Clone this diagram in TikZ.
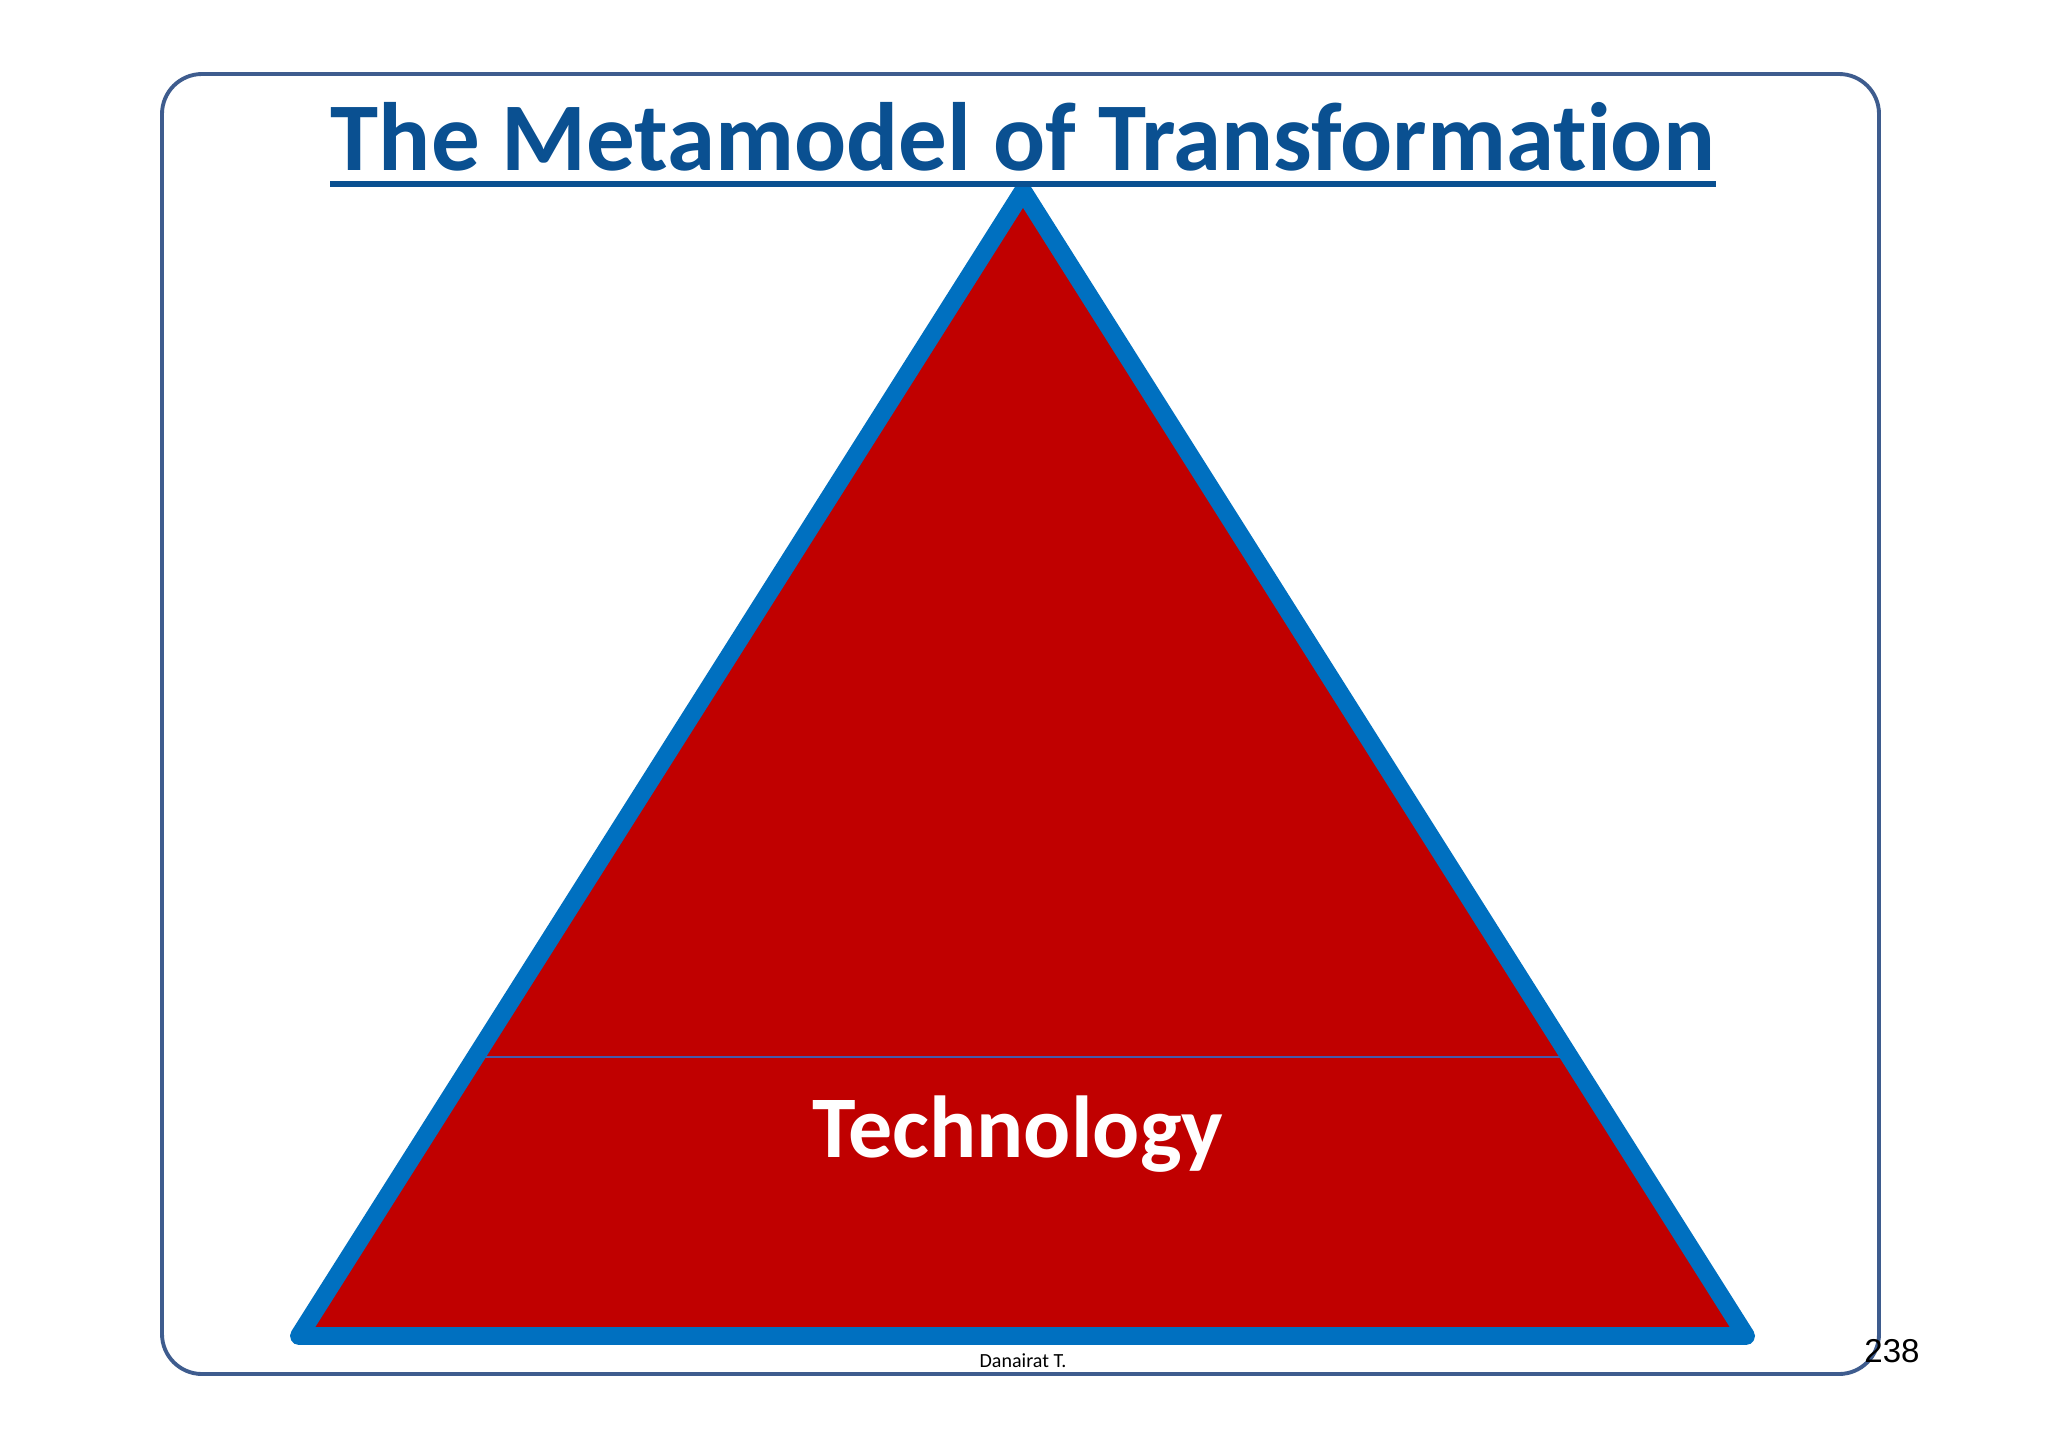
\documentclass[tikz,border=0pt]{standalone}
\usepackage{fontspec}
\setmainfont{Carlito}[Ligatures=NoCommon]
\newfontfamily\arialf{Liberation Sans}
\definecolor{titleblue}{RGB}{10,80,145}
\definecolor{framecol}{RGB}{62,92,142}
\definecolor{triblue}{RGB}{0,112,192}
\definecolor{trired}{RGB}{192,0,0}
\definecolor{divcol}{RGB}{70,90,170}
\tikzset{
  framebox/.style={draw=framecol,line width=1.1pt,rounded corners=0.4cm},
  tristroke/.style={draw=triblue,line width=5.1pt,line join=round},
  trifill/.style={fill=trired},
  titletext/.style={font=\bfseries\fontsize{27.6}{30}\selectfont,text=titleblue,inner sep=0pt,anchor=base},
  techtext/.style={font=\bfseries\fontsize{25}{27}\selectfont,text=white,inner sep=0pt},
  foottext/.style={font=\fontsize{5.7}{6}\selectfont,text=black,inner sep=0pt,anchor=base},
  pagetext/.style={font=\arialf\fontsize{9.4}{10}\selectfont,text=black,inner sep=0pt,anchor=base}
}
\begin{document}
\begin{tikzpicture}[x=0.01cm,y=-0.01cm]
\useasboundingbox[fill=white] (0,0) rectangle (2048,1448);
\draw[framebox] (162,74) rectangle (1879,1374);
\coordinate (apex) at (1023,191);
\coordinate (bl) at (299,1336);
\coordinate (br) at (1746,1336);
\coordinate (dl) at (475,1057);
\coordinate (dr) at (1571,1057);
\fill[trifill] (apex) -- (bl) -- (br) -- cycle;
\draw[divcol,line width=0.5pt] (dl) -- (dr);
\draw[tristroke] (apex) -- (bl) -- (br) -- cycle;
\node[titletext] (title) at (1023,170) {The Metamodel of Transformation};
\draw[titleblue,line width=1.5pt] ([yshift=-0.14cm]title.base west) -- ([yshift=-0.14cm]title.base east);
\node[techtext] (tech) at (1018,1134) {Technology};
\node[foottext] (foot) at (1023,1367) {Danairat T.};
\node[pagetext] (page) at (1892,1362) {238};
\end{tikzpicture}
\end{document}
